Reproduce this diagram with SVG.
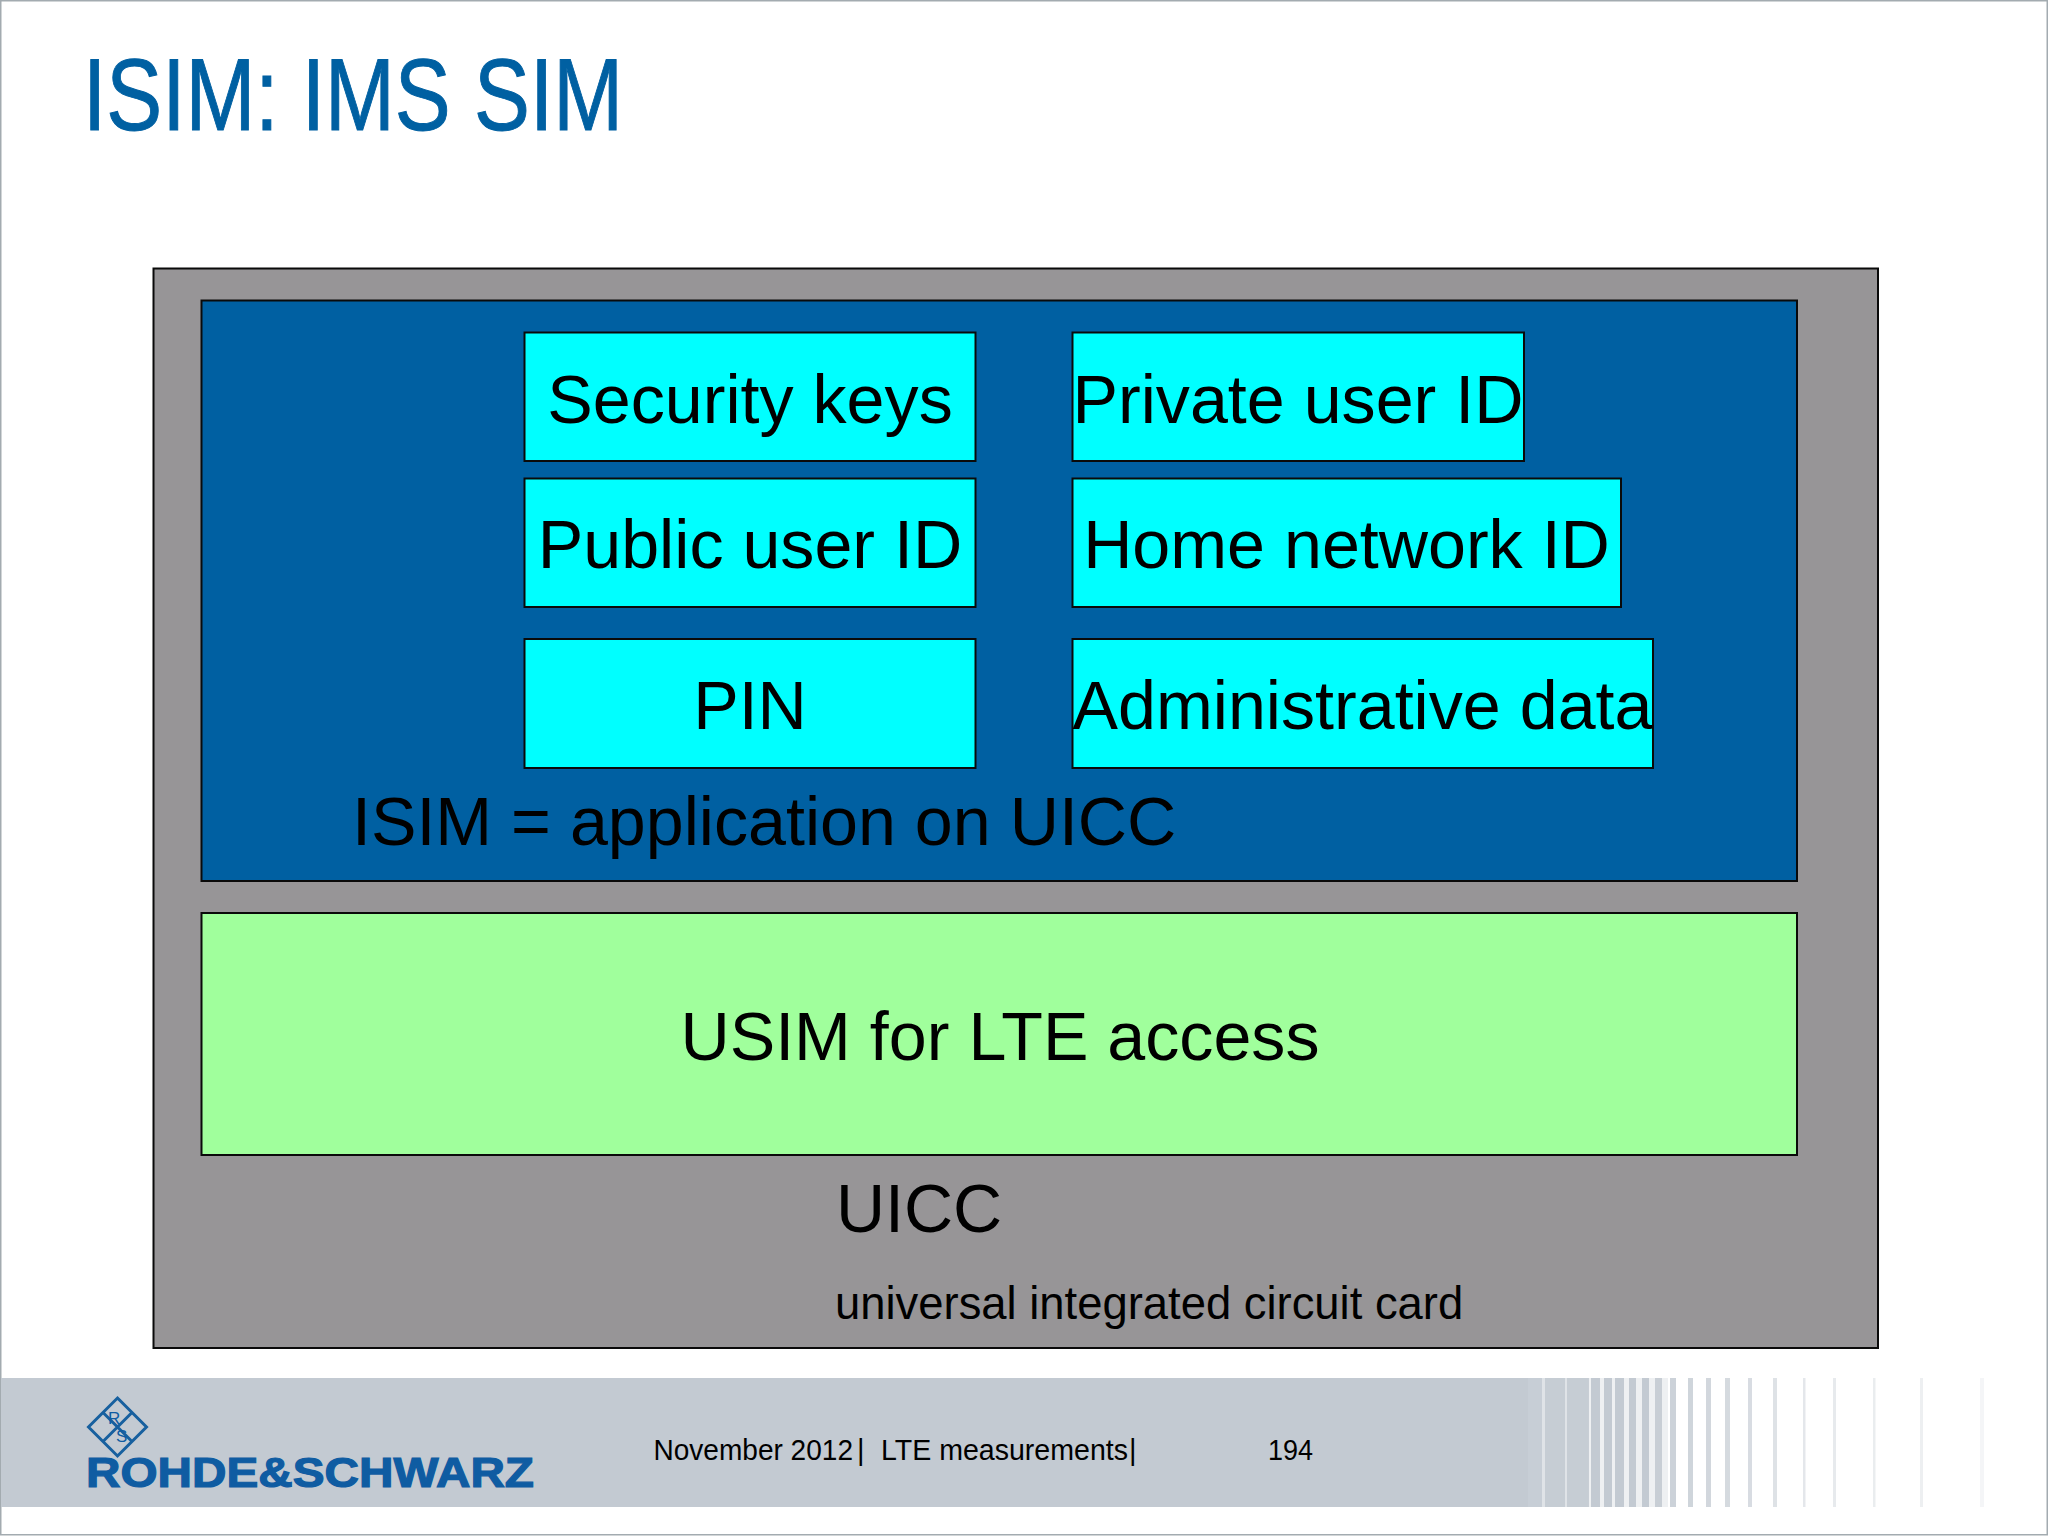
<svg xmlns="http://www.w3.org/2000/svg" width="2048" height="1536" viewBox="0 0 2048 1536">
<style>
text{font-family:"Liberation Sans",Arial,sans-serif;fill:#000}
.box{stroke:#0a0a0a;stroke-width:2}
.cy{fill:#00ffff}
.t{font-size:68.2px}
.m{text-anchor:middle}
.f{font-size:29px}
.s{fill:#c3cad2}
.l{fill:#0f5ca2}
</style>
<rect width="2048" height="1536" fill="#fff"/>
<rect x="0.75" y="0.75" width="2046.5" height="1534" fill="none" stroke="#a3abb0" stroke-width="1.5"/>
<text id="title" x="83" y="130" font-size="102" textLength="540" lengthAdjust="spacingAndGlyphs" style="fill:#0060a2;stroke:#0060a2;stroke-width:1">ISIM: IMS SIM</text>
<g id="footer">
<rect x="1528" y="1378" width="60" height="129" fill="#dfe3e7"/>
<rect x="1588" y="1378" width="80" height="129" fill="#eef0f2"/>
<rect class="s" x="1" y="1378" width="1527" height="129"/>
<g class="s">
<rect x="1528" y="1378" width="14" height="129" opacity=".85"/>
<rect x="1545" y="1378" width="20" height="129" opacity=".9"/>
<rect x="1567" y="1378" width="22" height="129" opacity=".9"/>
<rect x="1591" y="1378" width="9" height="129"/>
<rect x="1604" y="1378" width="8" height="129"/>
<rect x="1615" y="1378" width="9" height="129"/>
<rect x="1629" y="1378" width="7" height="129"/>
<rect x="1642" y="1378" width="7" height="129"/>
<rect x="1655" y="1378" width="7" height="129" opacity=".9"/>
<rect x="1670" y="1378" width="6" height="129" opacity=".85"/>
<rect x="1688" y="1378" width="5" height="129" opacity=".8"/>
<rect x="1706" y="1378" width="5" height="129" opacity=".75"/>
<rect x="1725" y="1378" width="5" height="129" opacity=".7"/>
<rect x="1748" y="1378" width="4" height="129" opacity=".65"/>
<rect x="1773" y="1378" width="4" height="129" opacity=".55"/>
<rect x="1803" y="1378" width="2.500" height="129" opacity=".45"/>
<rect x="1833" y="1378" width="3" height="129" opacity=".4"/>
<rect x="1873" y="1378" width="2.500" height="129" opacity=".35"/>
<rect x="1920" y="1378" width="3" height="129" opacity=".3"/>
<rect x="1980" y="1378" width="4" height="129" opacity=".18"/>
</g>
</g>
<g id="logo">
<path d="M117.500 1398L146.500 1427L117.500 1456L88.500 1427Z M103 1412.500L132 1441.500 M132 1412.500L103 1441.500" fill="none" stroke="#17609f" stroke-width="3"/>
<text class="l" x="108" y="1424" font-size="17">R</text>
<text class="l" x="116" y="1442" font-size="17">S</text>
<text class="l" x="86" y="1487" font-size="42" font-weight="bold" textLength="448" lengthAdjust="spacingAndGlyphs" style="stroke:#0f5ca2;stroke-width:1.200">ROHDE&amp;SCHWARZ</text>
</g>
<g id="footer-text">
<text class="f" x="653.500" y="1460" textLength="199.500" lengthAdjust="spacingAndGlyphs">November 2012</text>
<text class="f" x="857" y="1460">|</text>
<text class="f" x="881" y="1460" textLength="247" lengthAdjust="spacingAndGlyphs">LTE measurements</text>
<text class="f" x="1129" y="1460">|</text>
<text class="f" x="1268" y="1460" textLength="45" lengthAdjust="spacingAndGlyphs">194</text>
</g>
<g id="uicc">
<rect class="box" x="153.500" y="268.500" width="1724.500" height="1079.500" fill="#979597"/>
<text x="836" y="1232" class="t" style="font-size:68px">UICC</text>
<text x="835" y="1319" font-size="45.400">universal integrated circuit card</text>
</g>
<g id="isim">
<rect class="box" x="201.500" y="300.500" width="1595.500" height="580.500" fill="#0060a2"/>
<text x="352" y="845" class="t">ISIM = application on UICC</text>
</g>
<g id="usim">
<rect class="box" x="201.500" y="913" width="1595.500" height="242" fill="#a0ff9c"/>
<text x="1000" y="1060" class="t m">USIM for LTE access</text>
</g>
<g id="security-keys"><rect class="box cy" x="524.500" y="332.500" width="451" height="128.500"/><text x="750" y="423" class="t m">Security keys</text></g>
<g id="public-user-id"><rect class="box cy" x="524.500" y="478.500" width="451" height="128.500"/><text x="750" y="568" class="t m">Public user ID</text></g>
<g id="pin"><rect class="box cy" x="524.500" y="639" width="451" height="129"/><text x="750" y="729" class="t m">PIN</text></g>
<g id="private-user-id"><rect class="box cy" x="1072.500" y="332.500" width="451.500" height="128.500"/><text x="1298" y="423" class="t m">Private user ID</text></g>
<g id="home-network-id"><rect class="box cy" x="1072.500" y="478.500" width="548.500" height="128.500"/><text x="1346.500" y="568" class="t m">Home network ID</text></g>
<g id="administrative-data"><rect class="box cy" x="1072.500" y="639" width="580.500" height="129"/><text x="1362.500" y="729" class="t m">Administrative data</text></g>
</svg>
